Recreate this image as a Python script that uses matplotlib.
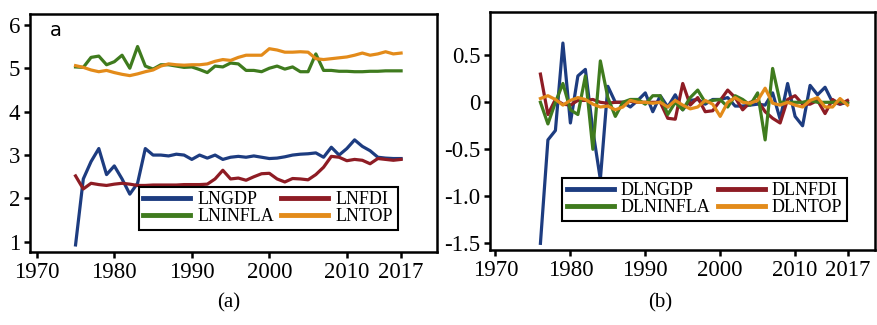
import numpy as np
import matplotlib
matplotlib.use("Agg")
import matplotlib.pyplot as plt

plt.rcParams['font.family'] = ['Liberation Serif', 'DejaVu Serif']

# panel (a): levels, 1975-2017
years_a = list(range(1975, 2018))
lngdp = [0.93, 2.45, 2.85, 3.15, 2.55, 2.75, 2.45, 2.10, 2.35, 3.15,
         3.00, 3.00, 2.98, 3.02, 3.00, 2.90, 3.00, 2.93, 3.00, 2.90,
         2.95, 2.97, 2.95, 2.98, 2.95, 2.92, 2.93, 2.96, 3.00, 3.02,
         3.03, 3.05, 2.95, 3.18, 3.00, 3.15, 3.35, 3.20, 3.10, 2.95,
         2.93, 2.92, 2.92]
lnfdi = [2.52, 2.22, 2.35, 2.32, 2.30, 2.33, 2.35, 2.33, 2.30, 2.30,
         2.31, 2.31, 2.31, 2.31, 2.32, 2.32, 2.32, 2.33, 2.45, 2.65,
         2.45, 2.47, 2.42, 2.50, 2.57, 2.58, 2.45, 2.38, 2.46, 2.45,
         2.43, 2.55, 2.72, 2.97, 2.95, 2.87, 2.90, 2.88, 2.80, 2.92,
         2.90, 2.88, 2.90]
lninfla = [5.03, 5.02, 5.25, 5.28, 5.08, 5.15, 5.30, 5.00, 5.50, 5.05,
           4.98, 5.08, 5.08, 5.05, 5.02, 5.03, 4.97, 4.90, 5.05, 5.03,
           5.12, 5.10, 4.95, 4.95, 4.92, 5.00, 5.05, 4.98, 5.03, 4.92,
           4.92, 5.33, 4.95, 4.95, 4.93, 4.93, 4.92, 4.92, 4.93, 4.93,
           4.94, 4.94, 4.94]
lntop = [5.06, 5.02, 4.96, 4.92, 4.95, 4.90, 4.86, 4.83, 4.87, 4.92,
         4.96, 5.05, 5.10, 5.08, 5.07, 5.08, 5.08, 5.10, 5.16, 5.20,
         5.18, 5.25, 5.30, 5.30, 5.30, 5.45, 5.42, 5.37, 5.37, 5.38,
         5.37, 5.22, 5.20, 5.22, 5.24, 5.26, 5.30, 5.35, 5.30, 5.33,
         5.38, 5.33, 5.35]

# panel (b): first differences, 1976-2017
years_b = list(range(1976, 2018))
dlngdp = [-1.50, -0.40, -0.30, 0.63, -0.22, 0.28, 0.35, -0.30, -0.82, 0.17,
          0.00, 0.00, -0.05, 0.02, 0.10, -0.10, 0.07, -0.05, 0.08, -0.08,
          0.02, 0.03, -0.02, 0.03, 0.03, 0.05, -0.04, -0.04, -0.03, -0.02,
          -0.03, 0.10, -0.18, 0.20, -0.15, -0.25, 0.18, 0.08, 0.16, 0.00,
          -0.02, 0.00]
dlnfdi = [0.30, -0.13, 0.03, -0.02, -0.03, 0.02, 0.02, 0.03, 0.00, -0.01,
          0.00, 0.00, 0.01, 0.00, 0.00, 0.00, 0.00, -0.17, -0.18, 0.20,
          -0.03, 0.05, -0.10, -0.09, 0.02, 0.13, 0.05, -0.08, 0.00, 0.02,
          -0.10, -0.17, -0.22, 0.03, 0.07, -0.02, -0.02, 0.02, -0.12, 0.03,
          -0.02, 0.02]
dlninfla = [0.00, -0.23, 0.00, 0.20, -0.08, -0.13, 0.28, -0.50, 0.44, 0.05,
            -0.15, 0.00, 0.03, 0.03, -0.02, 0.07, 0.07, -0.13, 0.00, -0.08,
            0.05, 0.13, 0.00, 0.02, 0.03, -0.05, 0.07, 0.03, -0.03, 0.10,
            -0.40, 0.36, 0.00, 0.00, 0.00, 0.00, 0.02, 0.00, 0.00, 0.00,
            0.01, -0.01]
dlntop = [0.04, 0.07, 0.03, -0.03, 0.02, 0.05, 0.03, -0.02, -0.05, -0.04,
          -0.08, -0.05, 0.02, 0.00, 0.00, -0.01, 0.00, -0.05, 0.02, -0.03,
          -0.07, -0.05, 0.02, -0.02, -0.15, 0.00, 0.05, 0.00, -0.01, 0.02,
          0.15, -0.01, -0.03, 0.00, -0.03, -0.05, 0.02, 0.05, -0.05, -0.05,
          0.04, -0.03]

xticks = [1970, 1980, 1990, 2000, 2010, 2017]
colors = ['#1d3c80', '#8e1c24', '#3f7b1e', '#e38b1a']

fig = plt.figure(figsize=(8.77, 3.25), dpi=100)
ax1 = fig.add_axes([0.034, 0.225, 0.464, 0.732])
ax2 = fig.add_axes([0.559, 0.231, 0.439, 0.732])

lw = 2.3
a_lines = []
for vals, c, name in [(lngdp, colors[0], 'LNGDP'), (lnfdi, colors[1], 'LNFDI'),
                      (lninfla, colors[2], 'LNINFLA'), (lntop, colors[3], 'LNTOP')]:
    l, = ax1.plot(years_a, vals, color=c, lw=lw, label=name)
    a_lines.append(l)

b_lines = []
for vals, c, name in [(dlngdp, colors[0], 'DLNGDP'), (dlnfdi, colors[1], 'DLNFDI'),
                      (dlninfla, colors[2], 'DLNINFLA'), (dlntop, colors[3], 'DLNTOP')]:
    l, = ax2.plot(years_b, vals, color=c, lw=lw, label=name)
    b_lines.append(l)

ax1.set_xlim(1969.1, 2021.6)
ax1.set_ylim(0.77, 6.25)
ax1.set_yticks([1, 2, 3, 4, 5, 6])
ax2.set_xlim(1969.3, 2020.7)
ax2.set_ylim(-1.57, 0.96)
ax2.set_yticks([0.5, 0, -0.5, -1.0, -1.5])
ax2.set_yticklabels(['0.5', '0', '-0.5', '-1.0', '-1.5'])

for ax in (ax1, ax2):
    ax.set_xticks(xticks)
    ax.tick_params(labelsize=16.5, width=1.8, length=4, direction='out', pad=3)
    for s in ax.spines.values():
        s.set_linewidth(1.8)


def add_legend(ax, lines, anchor):
    order = [0, 2, 1, 3]
    leg = ax.legend([lines[i] for i in order], [lines[i].get_label() for i in order],
                    ncol=2, loc='lower right', bbox_to_anchor=anchor,
                    fontsize=13, handlelength=2.6, labelspacing=0.0, borderpad=0.25,
                    columnspacing=0.4, handletextpad=0.4, fancybox=False, framealpha=1)
    leg.get_frame().set_edgecolor('black')
    leg.get_frame().set_linewidth(1.5)
    for l in leg.get_lines():
        l.set_linewidth(3.5)
    return leg


add_legend(ax1, a_lines, (0.926, 0.055))
add_legend(ax2, b_lines, (0.95, 0.084))

ax1.text(0.05, 0.93, 'a', transform=ax1.transAxes, fontsize=14,
         family='DejaVu Sans', va='center', ha='left')

fig.text(229 / 877, 1 - 303 / 325, '(a)', fontsize=15, ha='center', va='center')
fig.text(660 / 877, 1 - 303 / 325, '(b)', fontsize=15, ha='center', va='center')

fig.savefig('out.png', dpi=100)
